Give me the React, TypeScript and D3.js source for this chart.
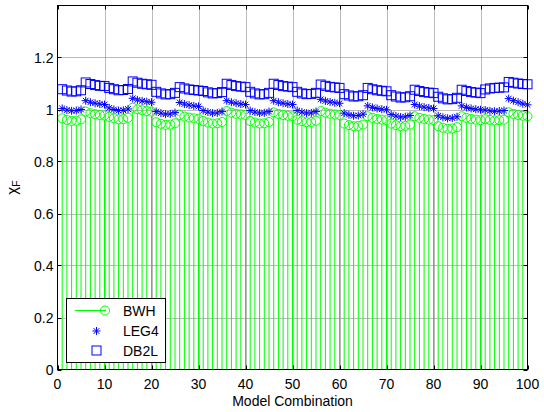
import React, { useEffect, useRef } from 'react';
import * as d3 from 'd3';

// model combination index 1..100
const combos = d3.range(1, 101);

const bwh = [
  0.966, 0.96, 0.956, 0.957, 0.962, 0.992, 0.986, 0.982, 0.979, 0.977,
  0.972, 0.966, 0.962, 0.963, 0.968, 1.007, 1.001, 0.997, 0.994, 0.992,
  0.951, 0.945, 0.941, 0.942, 0.947, 0.979, 0.973, 0.969, 0.966, 0.964,
  0.956, 0.95, 0.946, 0.947, 0.952, 0.994, 0.988, 0.984, 0.981, 0.979,
  0.956, 0.95, 0.946, 0.947, 0.952, 0.989, 0.983, 0.979, 0.976, 0.974,
  0.961, 0.955, 0.951, 0.952, 0.957, 0.994, 0.988, 0.984, 0.981, 0.979,
  0.946, 0.94, 0.936, 0.937, 0.942, 0.974, 0.968, 0.964, 0.961, 0.959,
  0.946, 0.94, 0.936, 0.937, 0.942, 0.974, 0.968, 0.964, 0.961, 0.959,
  0.936, 0.93, 0.926, 0.927, 0.932, 0.974, 0.968, 0.964, 0.961, 0.959,
  0.963, 0.96, 0.958, 0.959, 0.961, 0.989, 0.983, 0.979, 0.976, 0.974,
];

const leg4 = [
  1.004, 0.998, 0.995, 0.996, 1.0, 1.034, 1.028, 1.024, 1.021, 1.019,
  1.006, 1.0, 0.996, 0.997, 1.002, 1.043, 1.037, 1.033, 1.03, 1.028,
  0.992, 0.986, 0.982, 0.983, 0.988, 1.027, 1.021, 1.017, 1.014, 1.012,
  0.996, 0.99, 0.986, 0.987, 0.992, 1.034, 1.028, 1.024, 1.021, 1.019,
  0.996, 0.99, 0.986, 0.987, 0.992, 1.034, 1.028, 1.024, 1.021, 1.019,
  0.996, 0.99, 0.986, 0.987, 0.992, 1.039, 1.033, 1.029, 1.026, 1.024,
  0.986, 0.98, 0.976, 0.977, 0.982, 1.014, 1.008, 1.004, 1.001, 0.999,
  0.981, 0.975, 0.971, 0.972, 0.977, 1.019, 1.013, 1.009, 1.006, 1.004,
  0.976, 0.97, 0.966, 0.967, 0.972, 1.014, 1.008, 1.004, 1.001, 0.999,
  0.998, 0.995, 0.993, 0.994, 0.996, 1.042, 1.034, 1.028, 1.022, 1.018,
];

const db2l = [
  1.078, 1.073, 1.069, 1.07, 1.074, 1.104, 1.098, 1.094, 1.091, 1.09,
  1.083, 1.078, 1.074, 1.075, 1.079, 1.108, 1.103, 1.099, 1.097, 1.095,
  1.068, 1.062, 1.058, 1.059, 1.064, 1.086, 1.081, 1.077, 1.075, 1.073,
  1.071, 1.066, 1.062, 1.063, 1.067, 1.099, 1.094, 1.09, 1.088, 1.086,
  1.068, 1.062, 1.058, 1.059, 1.064, 1.099, 1.094, 1.09, 1.088, 1.086,
  1.068, 1.062, 1.059, 1.06, 1.064, 1.096, 1.091, 1.087, 1.085, 1.083,
  1.059, 1.054, 1.05, 1.051, 1.055, 1.083, 1.078, 1.074, 1.072, 1.07,
  1.055, 1.05, 1.046, 1.047, 1.051, 1.076, 1.071, 1.067, 1.065, 1.063,
  1.049, 1.043, 1.039, 1.04, 1.045, 1.076, 1.071, 1.067, 1.065, 1.063,
  1.077, 1.081, 1.083, 1.084, 1.085, 1.106, 1.103, 1.1, 1.098, 1.097,
];

const xTicks = [0, 10, 20, 30, 40, 50, 60, 70, 80, 90, 100];
const yTicks = [0, 0.2, 0.4, 0.6, 0.8, 1, 1.2];
const seriesNames = ['BWH', 'LEG4', 'DB2L'];

const GREEN = '#00ff00';
const BLUE = '#0000ff';
const FONT = 'Liberation Sans, Arial, Helvetica, sans-serif';

function starPath(cx: number, cy: number, r: number) {
  const d = r * 0.72;
  return `M${cx - r},${cy}L${cx + r},${cy}M${cx},${cy - r}L${cx},${cy + r}` +
    `M${cx - d},${cy - d}L${cx + d},${cy + d}M${cx - d},${cy + d}L${cx + d},${cy - d}`;
}

export default function App() {
  const ref = useRef<SVGSVGElement>(null);

  useEffect(() => {
    const width = 544;
    const height = 412;
    const margin = { top: 5.5, right: 16.5, bottom: 42.5, left: 57.5 };

    const svg = d3.select(ref.current);
    svg.selectAll('*').remove();

    const x = d3.scaleLinear().domain([0, 100]).range([margin.left, width - margin.right]);
    const y = d3.scaleLinear().domain([0, 1.4]).range([height - margin.bottom, margin.top]);

    svg.append('rect').attr('width', width).attr('height', height).attr('fill', '#fff');

    // grid
    const grid = svg.append('g').attr('stroke', '#777').attr('stroke-dasharray', '1,1').attr('stroke-width', 1);
    grid.selectAll('line.vx')
      .data(xTicks.slice(1, -1))
      .join('line')
      .attr('x1', (d) => Math.round(x(d)) + 0.5)
      .attr('x2', (d) => Math.round(x(d)) + 0.5)
      .attr('y1', y(1.4))
      .attr('y2', y(0));
    grid.selectAll('line.hy')
      .data(yTicks.slice(1))
      .join('line')
      .attr('x1', x(0))
      .attr('x2', x(100))
      .attr('y1', (d) => Math.round(y(d)) + 0.5)
      .attr('y2', (d) => Math.round(y(d)) + 0.5);

    // stems of BWH
    svg.append('g')
      .attr('stroke', GREEN)
      .attr('stroke-width', 1)
      .selectAll('line')
      .data(bwh)
      .join('line')
      .attr('x1', (d, i) => x(combos[i]))
      .attr('x2', (d, i) => x(combos[i]))
      .attr('y1', y(0))
      .attr('y2', (d) => y(d) + 4.5);

    svg.append('g')
      .attr('stroke', GREEN)
      .attr('fill', 'none')
      .selectAll('circle')
      .data(bwh)
      .join('circle')
      .attr('cx', (d, i) => x(combos[i]))
      .attr('cy', (d) => y(d))
      .attr('r', 4.5);

    svg.append('g')
      .attr('stroke', BLUE)
      .attr('fill', 'none')
      .selectAll('path')
      .data(leg4)
      .join('path')
      .attr('d', (d, i) => starPath(x(combos[i]), y(d), 4));

    svg.append('g')
      .attr('stroke', BLUE)
      .attr('fill', 'none')
      .selectAll('rect')
      .data(db2l)
      .join('rect')
      .attr('x', (d, i) => x(combos[i]) - 4.5)
      .attr('y', (d) => y(d) - 4.5)
      .attr('width', 9)
      .attr('height', 9);

    // axes box and inward ticks
    const ax = svg.append('g').attr('stroke', '#000').attr('stroke-width', 1);
    ax.append('rect')
      .attr('x', x(0))
      .attr('y', y(1.4))
      .attr('width', x(100) - x(0))
      .attr('height', y(0) - y(1.4))
      .attr('fill', 'none');
    const tl = 4;
    xTicks.forEach((t) => {
      const px = Math.round(x(t)) + 0.5;
      ax.append('line').attr('x1', px).attr('x2', px).attr('y1', y(0)).attr('y2', y(0) - tl);
      ax.append('line').attr('x1', px).attr('x2', px).attr('y1', y(1.4)).attr('y2', y(1.4) + tl);
    });
    yTicks.forEach((t) => {
      const py = Math.round(y(t)) + 0.5;
      ax.append('line').attr('x1', x(0)).attr('x2', x(0) + tl).attr('y1', py).attr('y2', py);
      ax.append('line').attr('x1', x(100)).attr('x2', x(100) - tl).attr('y1', py).attr('y2', py);
    });

    const labels = svg.append('g').attr('font-family', FONT).attr('font-size', 14).attr('fill', '#000');
    labels.selectAll('text.xt')
      .data(xTicks)
      .join('text')
      .attr('x', (d) => x(d))
      .attr('y', y(0) + 19)
      .attr('text-anchor', 'middle')
      .text((d) => d);
    svg.append('g').attr('font-family', FONT).attr('font-size', 14)
      .selectAll('text')
      .data(yTicks)
      .join('text')
      .attr('x', x(0) - 4)
      .attr('y', (d) => y(d) + 5)
      .attr('text-anchor', 'end')
      .text((d) => d3.format('~g')(d));

    svg.append('text')
      .attr('x', (x(0) + x(100)) / 2)
      .attr('y', 405.5)
      .attr('text-anchor', 'middle')
      .attr('font-family', FONT)
      .attr('font-size', 14)
      .text('Model Combination');

    const yl = svg.append('text')
      .attr('transform', `translate(17,${(y(0) + y(1.4)) / 2}) rotate(-90)`)
      .attr('text-anchor', 'middle')
      .attr('font-family', FONT)
      .attr('font-size', 15);
    yl.append('tspan').text('χ');
    yl.append('tspan').attr('font-size', 10.5).attr('dy', 3).text('F');

    // legend
    const lg = svg.append('g');
    lg.append('rect')
      .attr('x', 66.5)
      .attr('y', 298.5)
      .attr('width', 99)
      .attr('height', 64)
      .attr('fill', '#fff')
      .attr('stroke', '#000');
    const rowY = [310.5, 331, 350.5];
    lg.append('line').attr('x1', 75).attr('x2', 105).attr('y1', rowY[0]).attr('y2', rowY[0]).attr('stroke', GREEN);
    lg.append('circle').attr('cx', 105).attr('cy', rowY[0]).attr('r', 4.5).attr('fill', 'none').attr('stroke', GREEN);
    lg.append('circle').attr('cx', 105).attr('cy', rowY[0]).attr('r', 1).attr('fill', GREEN);
    lg.append('path').attr('d', starPath(96.5, rowY[1], 4)).attr('stroke', BLUE).attr('fill', 'none');
    lg.append('rect').attr('x', 92).attr('y', rowY[2] - 4.5).attr('width', 9).attr('height', 9)
      .attr('stroke', BLUE).attr('fill', 'none');
    lg.selectAll('text')
      .data(seriesNames)
      .join('text')
      .attr('x', 123)
      .attr('y', (d, i) => rowY[i] + 5)
      .attr('font-family', FONT)
      .attr('font-size', 14)
      .text((d) => d);
  }, []);

  return (
    <svg
      ref={ref}
      width={544}
      height={412}
      style={{ position: 'absolute', left: 0, top: 0 }}
    />
  );
}
